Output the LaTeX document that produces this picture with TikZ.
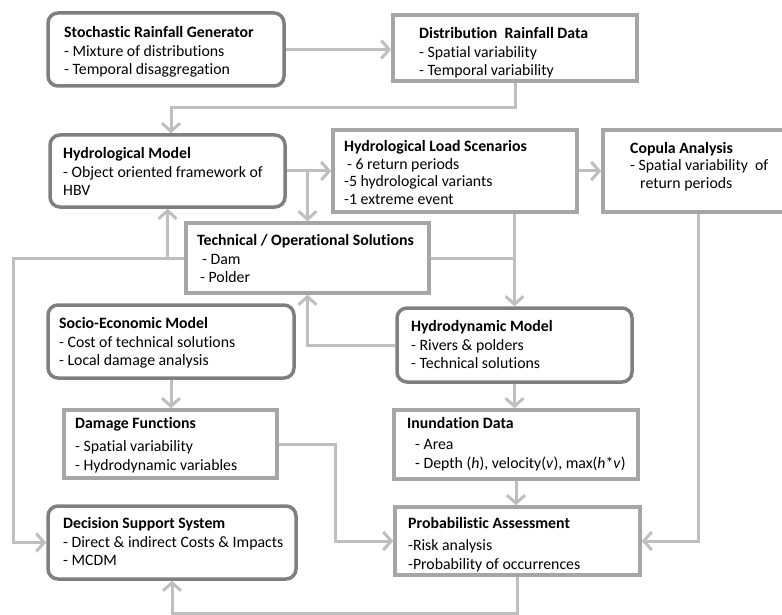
\documentclass[tikz,border=0pt]{standalone}
\usepackage{fontspec}
\setmainfont{Carlito}[Ligatures=NoCommon]
\usetikzlibrary{arrows.meta,calc}
\definecolor{conncol}{HTML}{BFBFBF}
\definecolor{lboxcol}{HTML}{A6A6A6}
\definecolor{dboxcol}{HTML}{7F7F7F}
\tikzset{
  lbox/.style={draw=lboxcol, line width=3.5pt, fill=white, inner sep=0pt},
  dbox/.style={draw=dboxcol, line width=3.5pt, fill=white, inner sep=0pt, rounded corners=10pt},
  txt/.style={anchor=north west, inner sep=0pt, align=left, font=\fontsize{15.8}{18.8}\selectfont},
  conn/.style={draw=conncol, line width=3pt, -{Straight Barb[length=8pt,width=18pt,line width=3pt]}},
  plain/.style={draw=conncol, line width=3pt}
}
\begin{document}
\begin{tikzpicture}[x=1pt,y=-1pt]
\useasboundingbox (0,0) rectangle (782,615);
\coordinate (c1) at (171,108);
\coordinate (c3) at (13,258);
\coordinate (c4) at (335,444);
\coordinate (c5) at (698,0);
\coordinate (c6) at (0,613);
% boxes
\node[dbox, minimum width=236pt, minimum height=73pt] (srg) at (166,49.5) {};
\node[lbox, minimum width=244pt, minimum height=66pt] (dist) at (515,48) {};
\node[dbox, minimum width=235pt, minimum height=72pt] (hm) at (167.5,171) {};
\node[lbox, minimum width=244pt, minimum height=82pt] (hls) at (455,171) {};
\node[lbox, minimum width=197pt, minimum height=82pt] (cop) at (701.5,171) {};
\node[lbox, minimum width=243pt, minimum height=70pt] (tech) at (307.5,258) {};
\node[dbox, minimum width=246pt, minimum height=73pt] (seco) at (171,341.5) {};
\node[dbox, minimum width=235pt, minimum height=74pt] (hdm) at (514.5,345) {};
\node[lbox, minimum width=213pt, minimum height=68pt] (dmg) at (170.5,444) {};
\node[lbox, minimum width=244pt, minimum height=69pt] (inund) at (516,444.5) {};
\node[lbox, minimum width=245pt, minimum height=68pt] (prob) at (517.5,541) {};
\node[dbox, minimum width=248pt, minimum height=73pt] (dss) at (172,542.5) {};
% texts
\node[txt] (t-srg) at (64,26) {\textbf{Stochastic Rainfall Generator}\\- Mixture of distributions\\- Temporal disaggregation};
\node[txt] (t-dist) at (419,27) {\textbf{Distribution\ \ Rainfall Data}\\- Spatial variability\\- Temporal variability};
\node[txt] (t-hm) at (63,147) {\textbf{Hydrological Model}\\- Object oriented framework of\\HBV};
\node[txt] (t-hls) at (344,140) {\textbf{Hydrological Load Scenarios}\\[-1pt]\hspace*{3pt}- 6 return periods\\[-1pt]-5 hydrological variants\\[-1pt]-1 extreme event};
\node[txt] (t-cop) at (630,142) {\textbf{Copula Analysis}\\[-1.3pt]- Spatial variability\ \ of\\[-1.3pt]\hspace*{10pt}return periods};
\node[txt] (t-tech) at (197,234) {\textbf{Technical / Operational Solutions}\\\hspace*{5pt}- Dam\\\hspace*{3pt}- Polder};
\node[txt] (t-seco) at (59,317) {\textbf{Socio-Economic Model}\\- Cost of technical solutions\\- Local damage analysis};
\node[txt] (t-hdm) at (411,320) {\textbf{Hydrodynamic Model}\\- Rivers \& polders\\- Technical solutions};
\node[txt] (t-dmg) at (75,417) {\textbf{Damage Functions}\\[4.2pt]- Spatial variability\\- Hydrodynamic variables};
\node[txt] (t-inund) at (407,417) {\textbf{Inundation Data}\\[2.2pt]\hspace*{8pt}- Area\\\hspace*{8pt}- Depth (\textit{h}), velocity(\textit{v}), max(\textit{h}*\textit{v})};
\node[txt] (t-prob) at (408,517) {\textbf{Probabilistic Assessment}\\[3.2pt]-Risk analysis\\-Probability of occurrences};
\node[txt] (t-dss) at (63,517) {\textbf{Decision Support System}\\- Direct \& indirect Costs \& Impacts\\- MCDM};
% connectors
\draw[conn] (srg.east) -- (srg.east -| dist.west);
\draw[conn] (dist.south) |- (c1) -- (c1 |- hm.north);
\draw[conn] (hm.east) -- (hls.west);
\draw[conn] (tech.north |- hm.east) -- (tech.north);
\draw[conn] (hls.east) -- (cop.west);
\draw[conn] (hdm.north |- hls.south) -- (hdm.north);
\draw[plain] (tech.east) -- (tech.east -| hdm.north);
\draw[conn] (tech.west) -- (c3) |- (dss.west);
\draw[conn] (hm.south |- tech.west) -- (hm.south);
\draw[conn] (hdm.west) -| (tech.south);
\draw[conn] (seco.south) -- (seco.south |- dmg.north);
\draw[conn] (hdm.south) -- (hdm.south |- inund.north);
\draw[conn] (inund.south) -- (inund.south |- prob.north);
\draw[conn] (dmg.east) -- (c4) |- (prob.west);
\draw[conn] (c5 |- cop.south) |- (prob.east);
\draw[conn] (prob.south) -- (prob.south |- c6) -| (dss.south);
\end{tikzpicture}
\end{document}
